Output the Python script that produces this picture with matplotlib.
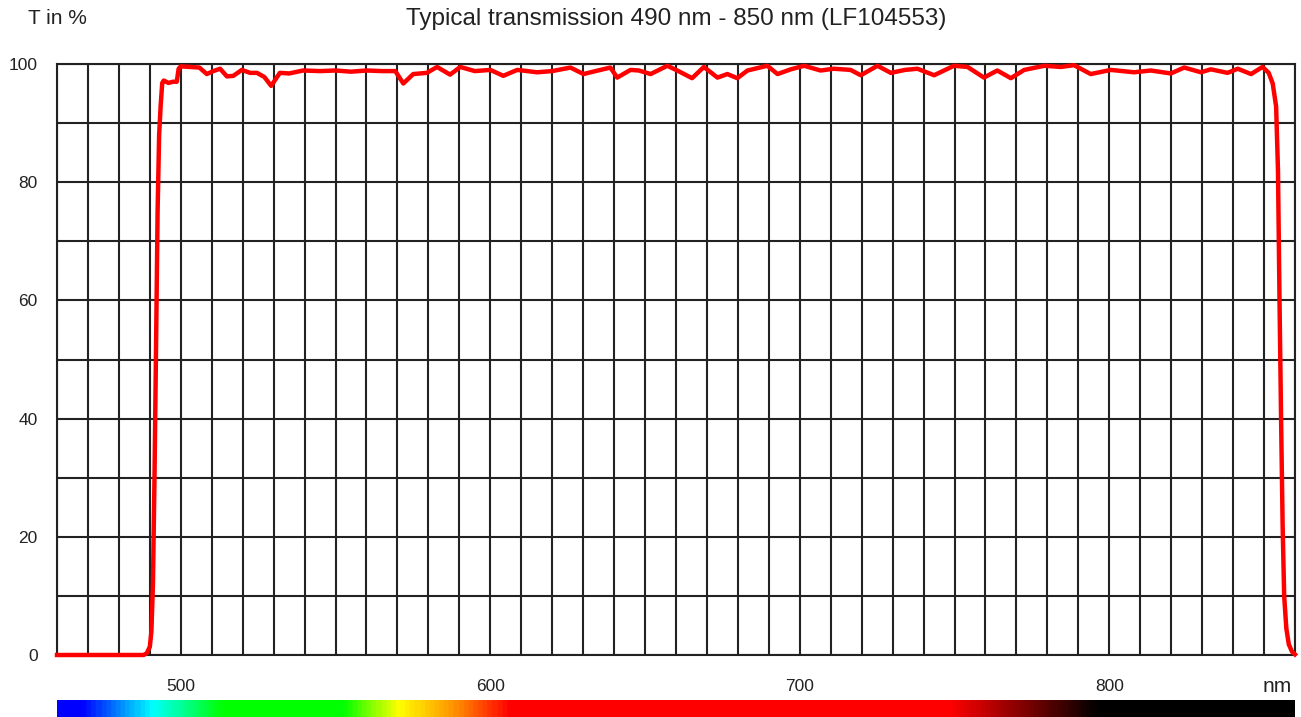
import numpy as np
import matplotlib
matplotlib.use('Agg')
import matplotlib.pyplot as plt
from matplotlib.colors import LinearSegmentedColormap

plt.rcParams['font.family'] = ['Liberation Sans', 'DejaVu Sans']

# transmission curve (nm, %)
wavelength = [460, 488, 489, 490, 490.5, 491, 491.5, 492, 492.5, 493, 493.5, 494, 494.5,
              496, 497.5, 498.7, 499.3, 500, 503, 506, 508.4, 510.5, 512.7, 514.9, 517,
              519.7, 522.4, 524.6, 527, 529.2, 532, 535, 539.5, 545, 550, 555, 560, 565,
              569.3, 571.9, 575.1, 579.5, 582.8, 587, 590.3, 595, 600, 604.2, 608.7, 615.1,
              620, 625.9, 630.1, 634, 638.8, 641, 645.3, 648, 651.8, 657.2, 660.4, 665.2,
              669, 673.4, 676.6, 679.8, 683.1, 689.5, 692.8, 697.1, 701.4, 706.7, 711,
              716.4, 719.7, 725.1, 729.4, 734, 738, 743.4, 749.8, 754.2, 759.5, 763.8,
              768.2, 772.5, 779, 784.3, 788.6, 794, 800.5, 808, 813.4, 819.9, 824.2, 829.6,
              832.8, 838.2, 841.5, 845.8, 849.5, 851.5, 852.8, 853.9, 854.5, 855, 855.5,
              856, 856.5, 857.2, 858, 859, 860]
transmission = [0.0, 0.0, 0.3, 1.4, 4, 12, 30, 52, 75, 88, 93, 96.8, 97.2,
                96.8, 97.0, 97.0, 99.2, 99.6, 99.5, 99.4, 98.3, 98.8, 99.2, 97.9, 98.0,
                99.0, 98.5, 98.5, 97.8, 96.3, 98.5, 98.4, 98.9, 98.8, 98.9, 98.7, 98.9, 98.8,
                98.8, 96.7, 98.3, 98.5, 99.5, 98.2, 99.5, 98.8, 99.0, 98.0, 99.0, 98.6,
                98.8, 99.4, 98.3, 98.8, 99.4, 97.7, 99.0, 98.9, 98.3, 99.7, 98.9, 97.6,
                99.5, 97.7, 98.3, 97.6, 98.9, 99.7, 98.3, 99.1, 99.7, 98.9, 99.2,
                99.0, 98.1, 99.7, 98.5, 99.0, 99.2, 98.1, 99.7, 99.5, 97.7, 98.9,
                97.6, 99.0, 99.7, 99.5, 99.8, 98.3, 99.0, 98.6, 98.9, 98.4, 99.4, 98.6,
                99.1, 98.5, 99.2, 98.3, 99.5, 98.5, 96.7, 92.8, 82, 60, 40,
                22, 10, 4.5, 1.8, 0.6, 0.1]

x_labels = [500, 600, 700, 800]
y_labels = [0, 20, 40, 60, 80, 100]

# spectrum strip colour stops (nm, colour)
spec_nm = [460, 467.5, 490, 513, 552, 570, 587, 606, 749, 797, 860]
spec_col = ['#0000ff', '#0000ff', '#00ffff', '#00ff00', '#00ff00', '#ffff00',
            '#ff9900', '#ff0000', '#ff0000', '#000000', '#000000']

fig = plt.figure(figsize=(13.01, 7.17), dpi=100)
ax = fig.add_axes([57 / 1301, 1 - 655 / 717, (1295 - 57) / 1301, (655 - 64) / 717])

ax.plot(wavelength, transmission, color='#ff0000', lw=3.2, zorder=3, clip_on=False,
        solid_joinstyle='round')

ax.set_xlim(460, 860)
ax.set_ylim(0, 100)
ax.set_xticks(x_labels)
ax.set_xticks(np.arange(460, 861, 10), minor=True)
ax.set_yticks(y_labels)
ax.set_yticks(np.arange(0, 101, 10), minor=True)
ax.grid(True, which='both', color='#222222', lw=1.5)
ax.tick_params(which='both', length=0, labelsize=12.5, colors='#222222')
ax.tick_params(axis='x', pad=17)
ax.tick_params(axis='y', pad=14)
for s in ax.spines.values():
    s.set_color('#222222')
    s.set_linewidth(1.5)

fig.text(676 / 1301, 1 - 19 / 717, 'Typical transmission 490 nm - 850 nm (LF104553)',
         fontsize=17.5, ha='center', va='center', color='#222222')
fig.text(28 / 1301, 1 - 18 / 717, 'T in %', fontsize=15, ha='left', va='center', color='#222222')
fig.text(1277 / 1301, 1 - 686 / 717, 'nm', fontsize=15, ha='center', va='center', color='#222222')

# spectrum strip
cax = fig.add_axes([57 / 1301, 0, (1295 - 57) / 1301, 17 / 717])
pos = [(v - 460) / 400 for v in spec_nm]
cmap = LinearSegmentedColormap.from_list('spec', list(zip(pos, spec_col)))
cax.imshow(np.linspace(0, 1, 800).reshape(1, -1), aspect='auto', cmap=cmap,
           extent=[460, 860, 0, 1])
cax.axis('off')

plt.savefig('out.png', dpi=100)
